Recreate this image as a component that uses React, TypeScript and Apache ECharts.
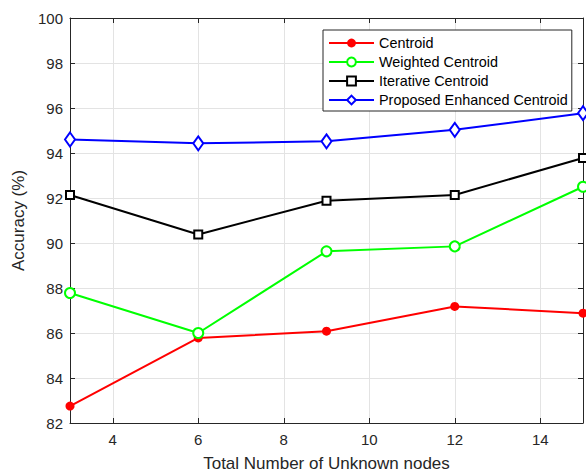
import React, { useEffect, useRef } from "react";
import * as echarts from "echarts";

const xValues = [3, 6, 9, 12, 15];
const xTicks = [4, 6, 8, 10, 12, 14];
const centroid = [82.75, 85.78, 86.08, 87.18, 86.88];
const weighted = [87.78, 86.0, 89.63, 89.85, 92.5];
const iterative = [92.13, 90.38, 91.88, 92.13, 93.78];
const proposed = [94.6, 94.43, 94.52, 95.03, 95.77];
const seriesNames = ["Centroid", "Weighted Centroid", "Iterative Centroid", "Proposed Enhanced Centroid"];

const FONT = "'Liberation Sans', Arial, Helvetica, sans-serif";
const AX = "#262626";
const GRID = "#e3e3e3";

function pairs(ys: number[]) {
  return xValues.map((x, i) => [x, ys[i]]);
}

export default function App() {
  const ref = useRef<HTMLDivElement>(null);
  useEffect(() => {
    document.body.style.margin = "0";
    const chart = echarts.init(ref.current!, null, { renderer: "svg" });
    const xCommon = {
      type: "value" as const,
      min: 3,
      max: 15,
      axisLine: { show: true, onZero: false, lineStyle: { color: AX, width: 1 } },
      axisTick: { show: true, inside: true, length: 5, customValues: xTicks, lineStyle: { color: AX } },
    };
    const yCommon = {
      type: "value" as const,
      min: 82,
      max: 100,
      interval: 2,
      axisLine: { show: true, onZero: false, lineStyle: { color: AX, width: 1 } },
      axisTick: { show: true, inside: true, length: 5, lineStyle: { color: AX } },
    };
    chart.setOption({
      animation: false,
      backgroundColor: "#ffffff",
      textStyle: { fontFamily: FONT },
      grid: { left: 70, top: 18, right: 3, bottom: 50, containLabel: false, outerBoundsMode: "none" },
      legend: {
        data: seriesNames,
        orient: "vertical",
        left: 323,
        top: 30,
        itemWidth: 45,
        itemHeight: 11,
        itemGap: 5,
        padding: [6, 4, 4, 5],
        backgroundColor: "#ffffff",
        borderColor: AX,
        borderWidth: 1,
        borderRadius: 0,
        textStyle: { fontFamily: FONT, fontSize: 14.4, color: "#000000", lineHeight: 14, padding: [0, 0, 0, 0] },
      },
      xAxis: [
        {
          ...xCommon,
          position: "bottom",
          name: "Total Number of Unknown nodes",
          nameLocation: "middle",
          nameGap: 32,
          nameTextStyle: { fontFamily: FONT, fontSize: 17, color: AX, lineHeight: 17 },
          axisLabel: { show: true, customValues: xTicks, margin: 9, fontFamily: FONT, fontSize: 15, color: AX },
          splitLine: { show: true, lineStyle: { color: GRID, width: 1 } },
        },
        {
          ...xCommon,
          position: "top",
          axisLabel: { show: false },
          splitLine: { show: false },
        },
      ],
      yAxis: [
        {
          ...yCommon,
          position: "left",
          name: "Accuracy (%)",
          nameLocation: "middle",
          nameGap: 43,
          nameRotate: 90,
          nameTextStyle: { fontFamily: FONT, fontSize: 17, color: AX },
          axisLabel: { show: true, margin: 7, fontFamily: FONT, fontSize: 15, color: AX },
          splitLine: { show: true, lineStyle: { color: GRID, width: 1 } },
        },
        {
          ...yCommon,
          position: "right",
          axisLabel: { show: false },
          splitLine: { show: false },
        },
      ],
      series: [
        {
          name: seriesNames[0],
          type: "line",
          data: pairs(centroid),
          symbol: "circle",
          symbolSize: 9,
          lineStyle: { color: "#ff0000", width: 2 },
          itemStyle: { color: "#ff0000" },
        },
        {
          name: seriesNames[1],
          type: "line",
          data: pairs(weighted),
          symbol: "emptyCircle",
          symbolSize: 10,
          lineStyle: { color: "#00ff00", width: 2 },
          itemStyle: { color: "#00ff00", borderWidth: 2 },
        },
        {
          name: seriesNames[2],
          type: "line",
          data: pairs(iterative),
          symbol: "emptyRect",
          symbolSize: 8,
          lineStyle: { color: "#000000", width: 2 },
          itemStyle: { color: "#000000", borderWidth: 1.5 },
        },
        {
          name: seriesNames[3],
          type: "line",
          data: pairs(proposed),
          symbol: "emptyDiamond",
          symbolSize: [10, 14],
          lineStyle: { color: "#0000ff", width: 2 },
          itemStyle: { color: "#0000ff", borderWidth: 2 },
        },
      ],
    });
    return () => chart.dispose();
  }, []);
  return <div ref={ref} style={{ width: 586, height: 473 }} />;
}
